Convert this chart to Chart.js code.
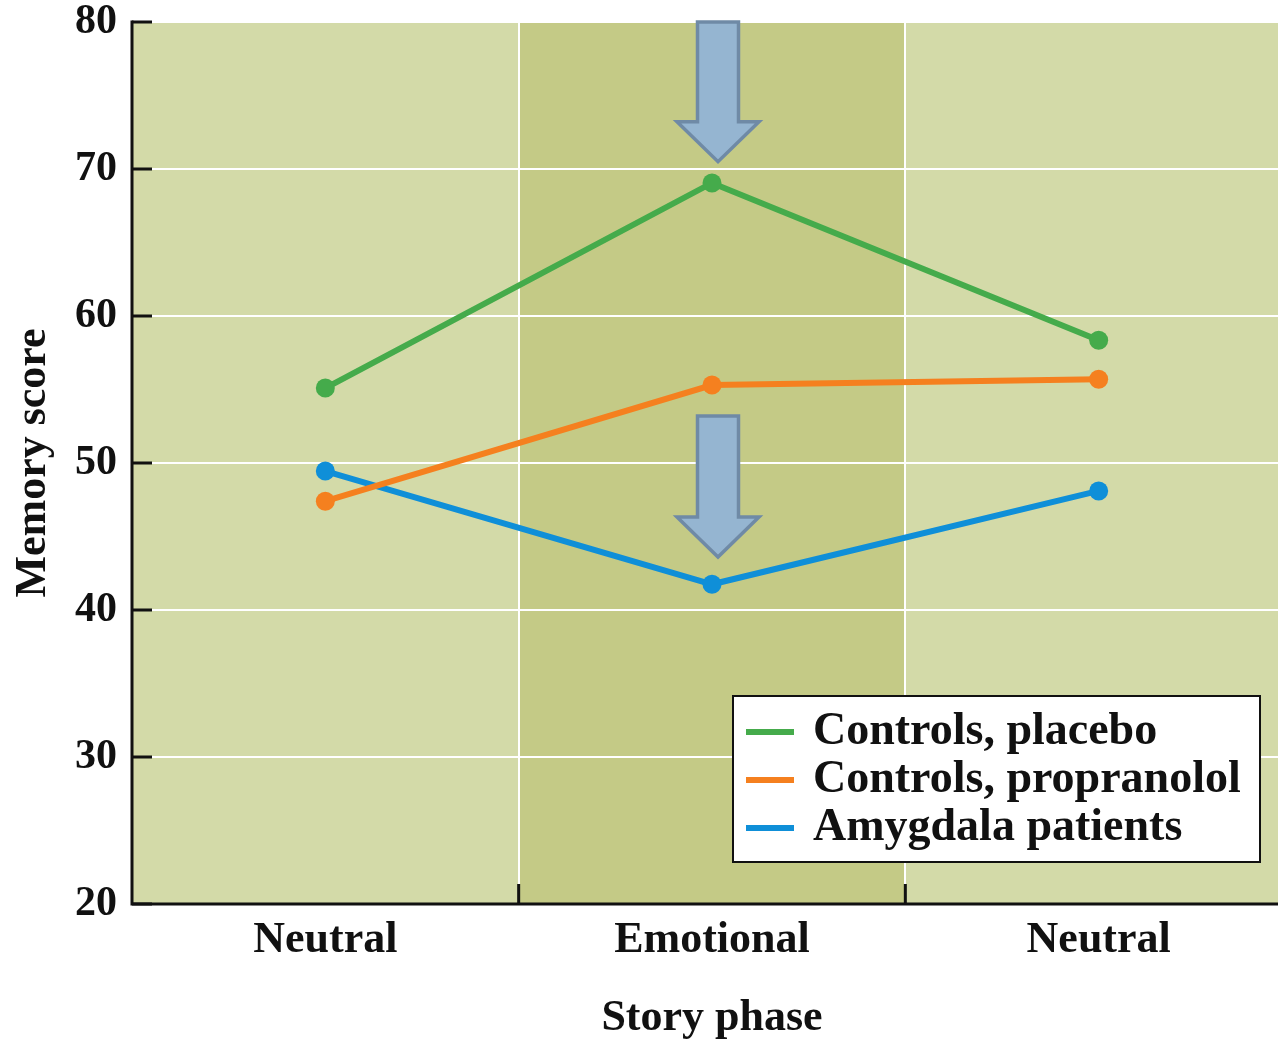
<!DOCTYPE html>
<html>
<head>
<meta charset="utf-8">
<title>Memory score by story phase</title>
<script src="https://cdn.jsdelivr.net/npm/chart.js@4.4.1/dist/chart.umd.min.js"></script>
<style>
  html, body { margin: 0; padding: 0; background: #ffffff; overflow: hidden; }
  #wrap { width: 1292px; height: 1039px; }
</style>
</head>
<body>
<div id="wrap"><canvas id="chart" width="1292" height="1039"></canvas></div>
<script>
// Story phases along the x axis
const phases = ['Neutral', 'Emotional', 'Neutral'];

// Mean memory scores per group
const controlsPlacebo     = [55.1, 69.05, 58.35];
const controlsPropranolol = [47.4, 55.3, 55.7];
const amygdalaPatients    = [49.45, 41.75, 48.1];

// Y axis range and ticks
const yTicks = [20, 30, 40, 50, 60, 70, 80];

// Downward arrows over the emotional phase: [top value, tip value]
const arrowPhaseIndex = 1;
const arrowSpans = [[80, 70.5], [53.2, 43.6]];

const SERIF = '"Liberation Serif", "Times New Roman", serif';
const INK = '#111111';

// Light and dark olive bands behind the plot
const bandPlugin = {
  id: 'bands',
  beforeDraw(chart) {
    const { ctx, chartArea: a, scales: { x } } = chart;
    ctx.save();
    ctx.fillStyle = '#d3daa8';
    ctx.fillRect(a.left, a.top, a.right - a.left, a.bottom - a.top);
    const half = (x.getPixelForValue(1) - x.getPixelForValue(0)) / 2;
    const cx = x.getPixelForValue(1);
    ctx.fillStyle = '#c4ca86';
    ctx.fillRect(cx - half, a.top, half * 2, a.bottom - a.top);
    ctx.restore();
  }
};

// Inward tick marks and black axis lines
const axisPlugin = {
  id: 'axisMarks',
  beforeDatasetsDraw(chart) {
    const { ctx, chartArea: a, scales: { x, y } } = chart;
    ctx.save();
    ctx.strokeStyle = INK;
    ctx.lineWidth = 3;
    ctx.lineCap = 'butt';
    ctx.beginPath();
    yTicks.forEach(v => {
      const py = y.getPixelForValue(v);
      ctx.moveTo(a.left, py);
      ctx.lineTo(a.left + 20, py);
    });
    const half = (x.getPixelForValue(1) - x.getPixelForValue(0)) / 2;
    for (let i = 0; i < phases.length - 1; i++) {
      const px = x.getPixelForValue(i) + half;
      ctx.moveTo(px, a.bottom);
      ctx.lineTo(px, a.bottom - 20);
    }
    ctx.stroke();
    ctx.beginPath();
    ctx.moveTo(a.left, a.top - 1.5);
    ctx.lineTo(a.left, a.bottom);
    ctx.lineTo(a.right + 2, a.bottom);
    ctx.stroke();
    ctx.restore();
  }
};

// Block arrows and the boxed legend
const overlayPlugin = {
  id: 'overlay',
  afterDatasetsDraw(chart) {
    const { ctx, scales: { x, y } } = chart;
    ctx.save();
    const cx = x.getPixelForValue(arrowPhaseIndex) + 6;
    const shaftHalf = 20.5, headHalf = 41, headLen = 40;
    arrowSpans.forEach(([topV, tipV]) => {
      const top = y.getPixelForValue(topV);
      const tip = y.getPixelForValue(tipV);
      const headTop = tip - headLen;
      ctx.beginPath();
      ctx.moveTo(cx - shaftHalf, top);
      ctx.lineTo(cx + shaftHalf, top);
      ctx.lineTo(cx + shaftHalf, headTop);
      ctx.lineTo(cx + headHalf, headTop);
      ctx.lineTo(cx, tip);
      ctx.lineTo(cx - headHalf, headTop);
      ctx.lineTo(cx - shaftHalf, headTop);
      ctx.closePath();
      ctx.fillStyle = '#95b5d1';
      ctx.fill();
      ctx.lineWidth = 3.5;
      ctx.lineJoin = 'miter';
      ctx.strokeStyle = '#6f8aa6';
      ctx.stroke();
    });

    // legend box
    const bx = 733, by = 696, bw = 527, bh = 166;
    ctx.fillStyle = '#ffffff';
    ctx.fillRect(bx, by, bw, bh);
    ctx.lineWidth = 2;
    ctx.strokeStyle = INK;
    ctx.strokeRect(bx, by, bw, bh);
    ctx.font = 'bold 46px ' + SERIF;
    ctx.textBaseline = 'alphabetic';
    ctx.textAlign = 'left';
    chart.data.datasets.forEach((ds, i) => {
      const ly = 732 + i * 48;
      ctx.strokeStyle = ds.borderColor;
      ctx.lineWidth = 6;
      ctx.beginPath();
      ctx.moveTo(746, ly);
      ctx.lineTo(794, ly);
      ctx.stroke();
      ctx.fillStyle = INK;
      ctx.fillText(ds.label, 813, ly + 12);
    });
    ctx.restore();
  }
};

function series(label, data, color) {
  return {
    label, data,
    borderColor: color,
    backgroundColor: color,
    borderWidth: 6,
    pointRadius: 9.5,
    pointHoverRadius: 9.5,
    pointBorderWidth: 0,
    tension: 0,
    fill: false
  };
}

new Chart(document.getElementById('chart'), {
  type: 'line',
  data: {
    labels: phases,
    datasets: [
      series('Controls, placebo', controlsPlacebo, '#45ab4b'),
      series('Controls, propranolol', controlsPropranolol, '#f5801f'),
      series('Amygdala patients', amygdalaPatients, '#0f8fd8')
    ]
  },
  options: {
    responsive: false,
    animation: false,
    events: [],
    layout: { autoPadding: false, padding: { top: 22, right: 0, left: 0, bottom: 0 } },
    plugins: { legend: { display: false }, tooltip: { enabled: false } },
    scales: {
      x: {
        type: 'category',
        offset: true,
        afterFit(s) { s.height = 135; s.paddingLeft = 0; s.paddingRight = 0; },
        grid: { offset: true, color: '#ffffff', lineWidth: 2, drawTicks: false },
        border: { display: false },
        ticks: {
          color: INK, padding: 10,
          font: { family: SERIF, size: 44, weight: 'bold', lineHeight: 1.2 }
        },
        title: {
          display: true, text: 'Story phase', color: INK,
          font: { family: SERIF, size: 44, weight: 'bold', lineHeight: 0.93 },
          padding: { top: 0, bottom: 0 }
        }
      },
      y: {
        min: 20, max: 80,
        afterFit(s) { s.width = 132; s.paddingTop = 0; s.paddingBottom = 0; },
        afterBuildTicks(s) { s.ticks = yTicks.map(v => ({ value: v })); },
        grid: { color: '#ffffff', lineWidth: 2, drawTicks: false },
        border: { display: false },
        ticks: {
          color: INK, padding: 15,
          font: { family: SERIF, size: 42, weight: 'bold', lineHeight: 0.3 }
        },
        title: {
          display: true, text: 'Memory score', color: INK,
          font: { family: SERIF, size: 44, weight: 'bold', lineHeight: 1.2 },
          padding: { top: 7, bottom: 0 }
        }
      }
    }
  },
  plugins: [bandPlugin, axisPlugin, overlayPlugin]
});
</script>
</body>
</html>
